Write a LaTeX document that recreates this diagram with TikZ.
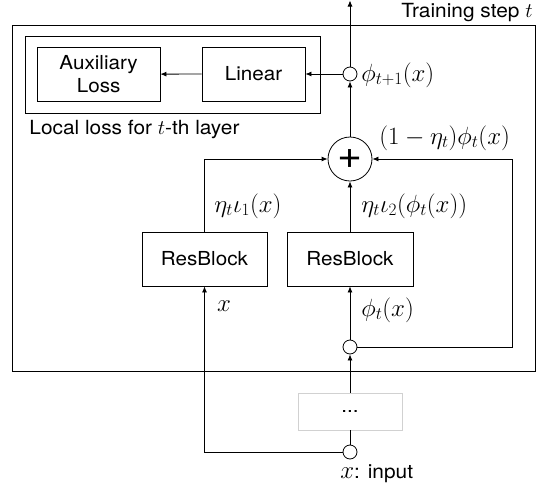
\documentclass[tikz,border=0pt]{standalone}
\usepackage{fontspec}
\setmainfont{TeX Gyre Heros}[FakeStretch=1.07]
\usetikzlibrary{arrows.meta}
\begin{document}
\begin{tikzpicture}[x=1pt,y=-1pt,
  line width=0.8pt,
  arr/.style={-{Latex[length=6pt,width=5pt]}},
  box/.style={draw, rectangle, inner sep=0pt, font=\fontsize{19.3}{24}\selectfont, align=center},
  dot/.style={draw, circle, fill=white, inner sep=0pt, minimum size=14pt},
  lbl/.style={inner sep=0pt, font=\fontsize{23.5}{28}\selectfont},
  txt/.style={inner sep=0pt, font=\fontsize{19.5}{24}\selectfont}]
\useasboundingbox (0,0) rectangle (542,488);
% frames
\node[box, minimum width=522.5pt, minimum height=346pt] (outer) at (273.75,198) {};
\node[box, minimum width=295.5pt, minimum height=77.5pt] (inner) at (172.75,74.75) {};
% blocks
\node[box, minimum width=122.7pt, minimum height=54pt] (aux) at (98.65,74.2) {Auxiliary\\[-1pt]Loss};
\node[box, minimum width=103pt, minimum height=54pt] (lin) at (253.5,74) {Linear};
\node[box, minimum width=125pt, minimum height=54pt] (resL) at (204.5,259) {ResBlock};
\node[box, minimum width=126pt, minimum height=54pt] (resR) at (350,259) {ResBlock};
\node[box, draw=black!18, minimum width=104pt, minimum height=37pt] (dots) at (350,411.5) {...};
% circles
\node[dot] (c1) at (350,74) {};
\node[dot] (c2) at (350,347) {};
\node[dot] (c3) at (350,452) {};
\node[draw, circle, fill=white, inner sep=0pt, minimum size=44pt, font=\fontsize{40}{40}\selectfont] (plus) at (350,159) {+};
\coordinate (top) at (350,0.5);
\coordinate (fb) at (512,347);
% connectors
\draw[arr] (c1) -- (top);
\draw[arr] (plus) -- (c1);
\draw[arr] (c1) -- (lin);
\draw[arr] (lin) -- (aux);
\draw[arr] (resL.north) |- (plus.west);
\draw[arr] (resR) -- (plus);
\draw[arr] (c2) -- (resR);
\draw[arr] (c2.east) -- (fb) |- (plus.east);
\draw[arr] (dots) -- (c2);
\draw (c3) -- (dots);
\draw[arr] (c3.west) -| (resL.south);
% labels
\node[txt, anchor=base east] (title) at (533,17) {Training step $t$};
\node[txt, anchor=base west] (loc) at (29,134) {Local loss for $t$-th layer};
\node[lbl, anchor=west] (l1) at (361,75) {$\phi_{t+1}(x)$};
\node[lbl, anchor=west] (l2) at (379,138) {$(1-\eta_t)\phi_t(x)$};
\node[lbl, anchor=west] (l3) at (214,206) {$\eta_t\iota_1(x)$};
\node[lbl, anchor=west] (l4) at (361,206) {$\eta_t\iota_2(\phi_t(x))$};
\node[lbl, anchor=west] (l5) at (361,310) {$\phi_t(x)$};
\node[lbl] (l6) at (224,306) {$x$};
\node[txt, anchor=west] (l7) at (340,474) {{\fontsize{23.5}{28}\selectfont$x$}: input};
\end{tikzpicture}
\end{document}
